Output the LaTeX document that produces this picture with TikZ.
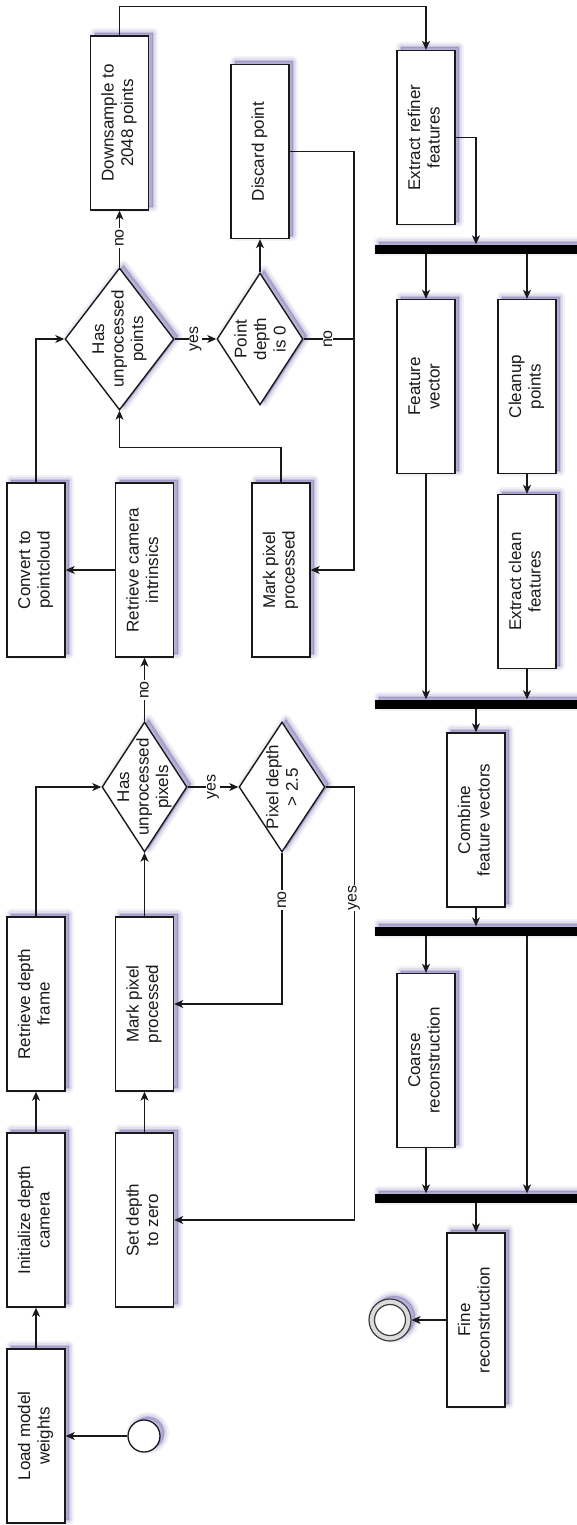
\documentclass[tikz,border=0pt]{standalone}
\usepackage{fontspec}
\setmainfont{Liberation Sans}
\usepackage{graphicx}
\usetikzlibrary{shapes.geometric,shadows,arrows.meta}
\definecolor{shc}{RGB}{72,62,150}
\definecolor{ink}{RGB}{25,25,25}
% two-line label set upright and turned a quarter turn
\newcommand{\uptext}[1]{\rotatebox{90}{\begin{tabular}{@{}c@{}}#1\end{tabular}}}
\tikzset{
  softshadow/.style={
    general shadow={shadow xshift=4pt, shadow yshift=3pt, fill=shc, draw=shc, line width=10pt, line join=round, opacity=.07},
    general shadow={shadow xshift=4pt, shadow yshift=3pt, fill=shc, draw=shc, line width=6pt, line join=round, opacity=.11},
    general shadow={shadow xshift=4pt, shadow yshift=3pt, fill=shc, draw=shc, line width=2pt, line join=round, opacity=.17}},
  mainfont/.style={font=\fontsize{17pt}{19.5pt}\selectfont},
  stepbox/.style={draw=ink, line width=1.4pt, fill=white, minimum width=58pt, minimum height=174pt, inner sep=0pt, softshadow, text=ink, mainfont},
  decision/.style={diamond, draw=ink, line width=1.4pt, fill=white, inner sep=0pt, softshadow},
  dtext/.style={rotate=90, align=center, text=ink, inner sep=0pt, mainfont},
  syncbar/.style={fill=black, minimum width=205pt, minimum height=9pt, inner sep=0pt, softshadow},
  flow/.style={draw=ink, line width=1.1pt, -{Stealth[length=9pt,width=8pt,inset=2.5pt]}},
  plain/.style={draw=ink, line width=1.1pt},
  guard/.style={rotate=90, fill=white, inner sep=1pt, text=ink, font=\fontsize{16pt}{18pt}\selectfont},
}
\begin{document}
\begin{tikzpicture}[x=1pt, y=-1pt]
\useasboundingbox (0,0) rectangle (576,1525);

% ---- camera set-up and pixel loop ----
\node[circle, draw=ink, line width=1.3pt, fill=white, minimum size=32pt, inner sep=0pt, softshadow] (start) at (144,1436) {};
\node[stepbox] (load)  at (36,1436)   {\uptext{Load model\\weights}};
\node[stepbox] (init)  at (36,1220)   {\uptext{Initialize depth\\camera}};
\node[stepbox] (frame) at (36,1004)   {\uptext{Retrieve depth\\frame}};
\node[stepbox] (markA) at (144.5,1004) {\uptext{Mark pixel\\processed}};
\node[stepbox] (zero)  at (144.5,1220) {\uptext{Set depth\\to zero}};
\node[decision, minimum width=85pt, minimum height=130pt] (pix) at (144.5,787) {};
\node[dtext] (pixt) at (pix) {Has\\unprocessed\\pixels};
\node[decision, minimum width=86pt, minimum height=130pt] (far) at (282,787) {};
\node[dtext] (fart) at (far) {Pixel depth\\> 2.5};

% ---- point cloud loop ----
\node[stepbox] (intr)  at (144.5,570) {\uptext{Retrieve camera\\intrinsics}};
\node[stepbox] (cloud) at (36,570)    {\uptext{Convert to\\pointcloud}};
\node[decision, minimum width=109pt, minimum height=142pt] (pts) at (119.5,339) {};
\node[dtext] (ptst) at (pts) {Has\\unprocessed\\points};
\node[decision, minimum width=86pt, minimum height=132pt] (zpt) at (260,339) {};
\node[dtext] (zptt) at (zpt) {Point\\depth\\is 0};
\node[stepbox] (markB) at (281,570)   {\uptext{Mark pixel\\processed}};
\node[stepbox] (drop)  at (260,151.5) {\uptext{Discard point}};
\node[stepbox] (down)  at (119.5,123) {\uptext{Downsample to\\2048 points}};
\coordinate (jn) at (354,339);

% ---- feature extraction and reconstruction ----
\node[stepbox] (refine) at (426,137.5) {\uptext{Extract refiner\\features}};
\node[syncbar] (b1) at (477.5,249) {};
\node[stepbox] (fvec)   at (426,386.5) {\uptext{Feature\\vector}};
\node[stepbox] (clean)  at (527,386.5) {\uptext{Cleanup\\points}};
\node[stepbox] (cfeat)  at (527,581.5) {\uptext{Extract clean\\features}};
\node[syncbar] (b2) at (477.5,704) {};
\node[stepbox] (comb)   at (476,820)   {\uptext{Combine\\feature vectors}};
\node[syncbar] (b3) at (477.5,931) {};
\node[stepbox] (coarse) at (426,1060.5) {\uptext{Coarse\\reconstruction}};
\node[syncbar] (b4) at (477.5,1198) {};
\node[stepbox] (fine)   at (476,1320)  {\uptext{Fine\\reconstruction}};
\node[circle, draw=ink!85, fill=black!14, line width=1.2pt, minimum size=42pt, inner sep=0pt, softshadow] (endc) at (390,1320) {};
\node[circle, draw=ink!85, fill=white, line width=1.2pt, minimum size=31pt, inner sep=0pt] (endin) at (endc) {};

% ---- connectors, pixel loop ----
\draw[flow] (start.west) -- (load.east);
\draw[flow] (load) -- (init);
\draw[flow] (init) -- (frame);
\draw[flow] (frame.north) |- (pix.west);
\draw[flow] (markA) -- (pix);
\draw[flow] (zero) -- (markA);
\draw[flow] (pix) -- (far);
\draw[flow] (far.south) |- (markA.east);
\draw[flow] (far.east) -- ++(29,0) |- (zero.east);
\draw[flow] (pix) -- (intr);

% ---- connectors, point loop ----
\draw[flow] (intr) -- (cloud);
\draw[flow] (cloud.north) |- (pts.west);
\draw[flow] (pts) -- (down);
\draw[flow] (pts) -- (zpt);
\draw[flow] (zpt) -- (drop);
\draw[plain] (zpt.east) -- (jn);
\draw[flow] (drop.east) -| (jn) |- (markB.east);
\draw[flow] (markB.north) -- ++(0,-35) -| (pts.south);
\draw[flow] (down.north) -- ++(0,-29) -| (refine.north);

% ---- connectors, features ----
\draw[flow] (refine.east) -| (b1.north -| comb.center);
\draw[flow] (b1.south -| fvec.north) -- (fvec.north);
\draw[flow] (b1.south -| clean.north) -- (clean.north);
\draw[flow] (clean) -- (cfeat);
\draw[flow] (fvec.south) -- (fvec.south |- b2.north);
\draw[flow] (cfeat.south) -- (cfeat.south |- b2.north);
\draw[flow] (b2.south -| comb.north) -- (comb.north);
\draw[flow] (comb.south) -- (comb.south |- b3.north);
\draw[flow] (b3.south -| coarse.north) -- (coarse.north);
\draw[flow] (b3.south -| cfeat.south) -- (cfeat.south |- b4.north);
\draw[flow] (coarse.south) -- (coarse.south |- b4.north);
\draw[flow] (b4.south -| fine.north) -- (fine.north);
\draw[flow] (fine.west) -- (endc);

% ---- branch guards ----
\node[guard] (g1) at (213,787)   {yes};
\node[guard] (g2) at (282,900)   {no};
\node[guard] (g3) at (354,898)   {yes};
\node[guard] (g4) at (144.5,690) {no};
\node[guard] (g5) at (119.5,238) {no};
\node[guard] (g6) at (195.5,339) {yes};
\node[guard] (g7) at (328,339)   {no};
\end{tikzpicture}
\end{document}
